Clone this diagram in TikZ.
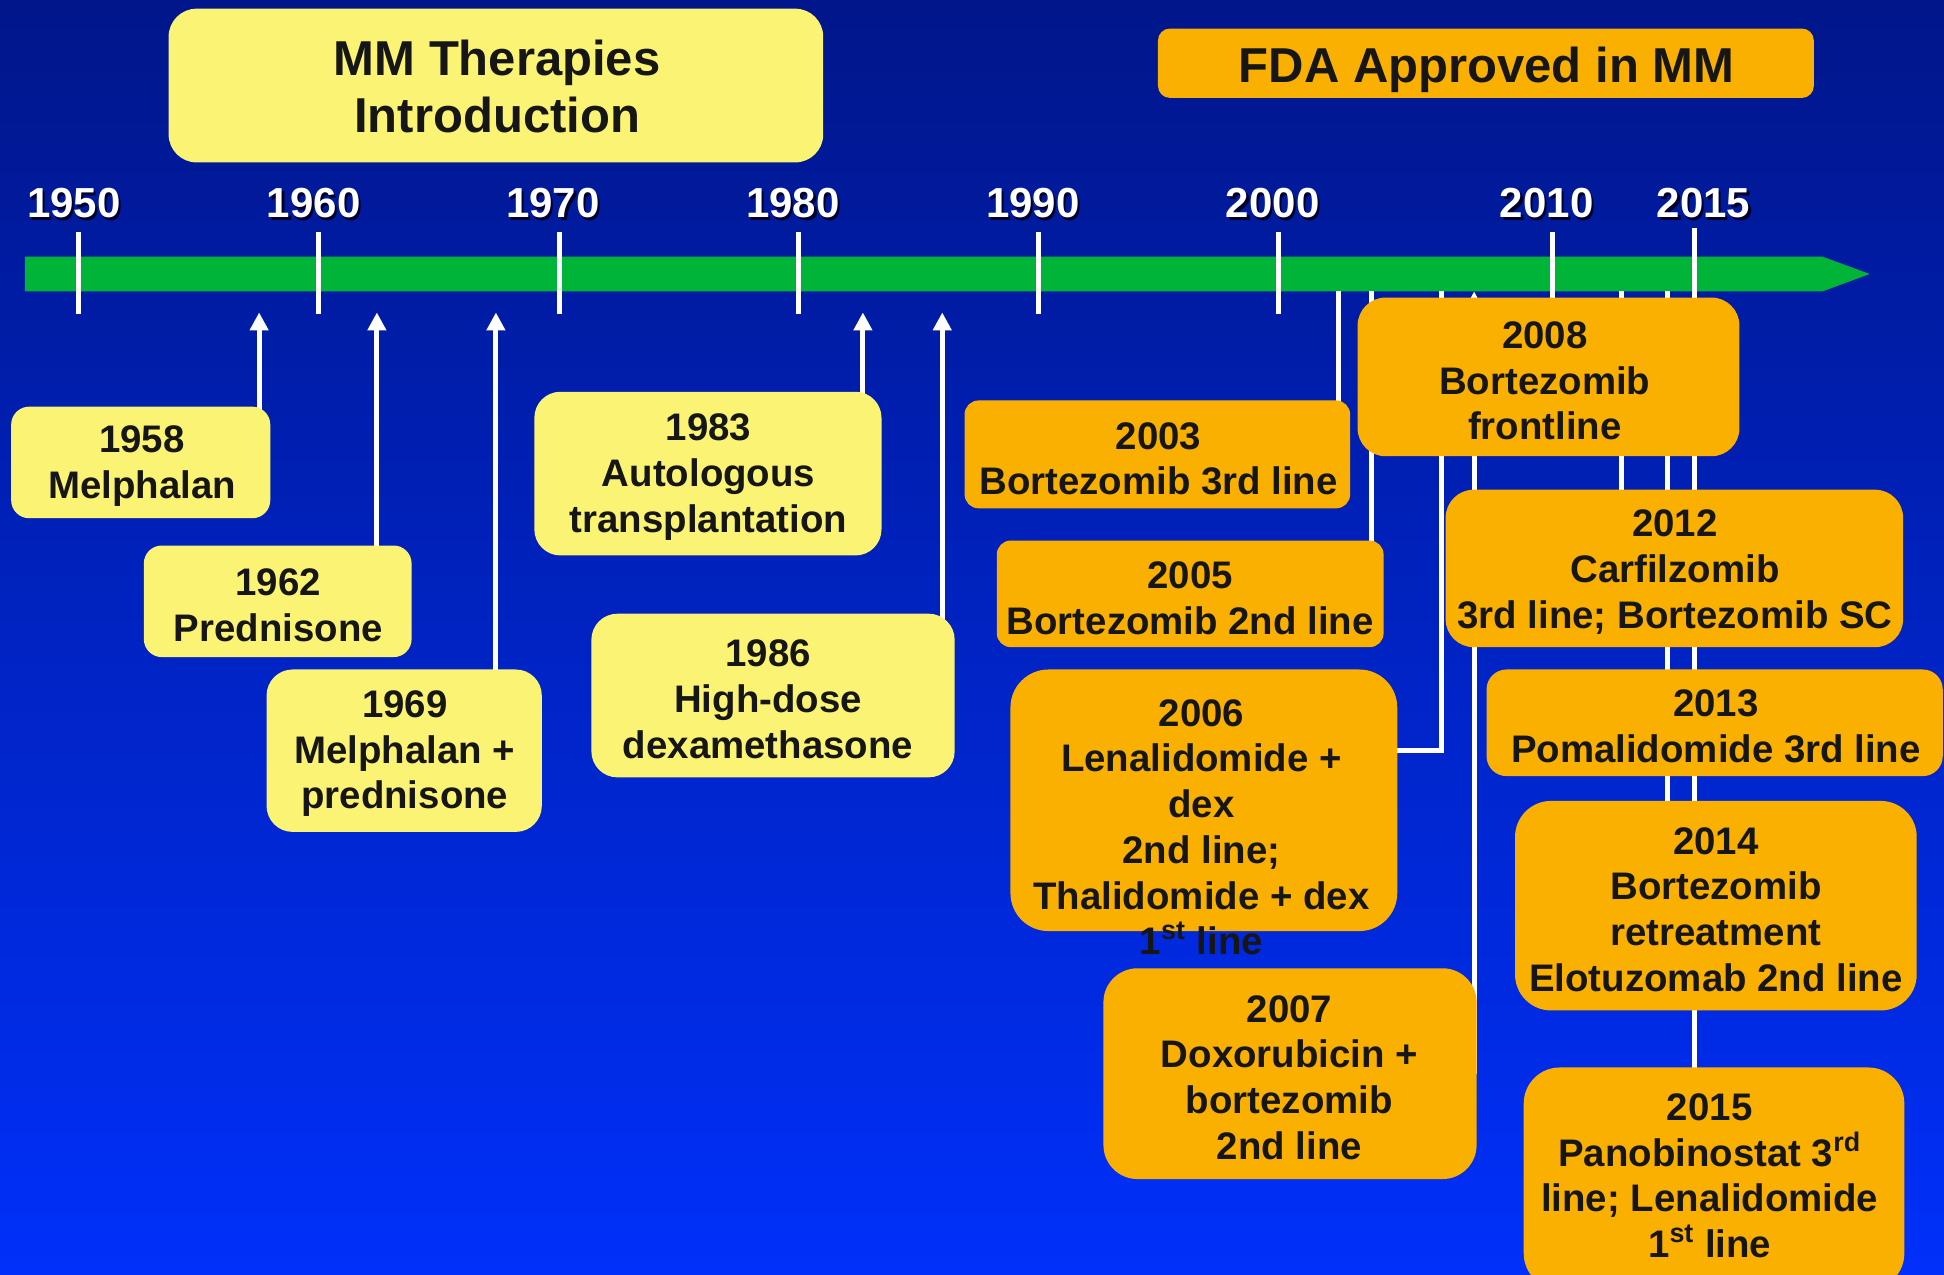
\documentclass[tikz,border=0pt]{standalone}
\usepackage{fontspec}
\setmainfont{Liberation Sans}
\usetikzlibrary{arrows.meta,fit}
\pgfdeclarelayer{back}
\pgfdeclarelayer{lines}
\pgfsetlayers{back,lines,main}
\definecolor{bgtop}{RGB}{0,22,138}
\definecolor{bgbot}{RGB}{0,48,250}
\definecolor{ylw}{RGB}{250,243,115}
\definecolor{org}{RGB}{250,176,0}
\definecolor{grn}{RGB}{0,180,55}
\definecolor{ink}{RGB}{22,22,22}
\definecolor{shd}{RGB}{0,0,45}
\begin{document}
\begin{tikzpicture}[x=0.62pt,y=-0.62pt,
  ybox/.style={fill=ylw, inner sep=0pt, rounded corners=#1},
  ybox/.default=9pt,
  obox/.style={fill=org, inner sep=0pt, rounded corners=#1},
  obox/.default=9pt,
  txt/.style={text=ink, font=\bfseries\fontsize{19.2}{22.9}\selectfont, align=center, inner sep=0pt, yshift=-1.6pt},
  ttl/.style={text=ink, font=\bfseries\fontsize{24.5}{28.5}\selectfont, align=center, inner sep=0pt},
  yr/.style={text=white, font=\bfseries\fontsize{21}{25}\selectfont, inner sep=0pt},
  yrs/.style={text=shd, font=\bfseries\fontsize{21}{25}\selectfont, inner sep=0pt},
  tick/.style={draw=white, line width=2.5pt},
  conn/.style={draw=white, line width=2.5pt},
  arr/.style={draw=white, line width=2.5pt, -{Triangle[width=9pt,length=9pt]}},
]
\useasboundingbox (0,0) rectangle (1568,1028);
\clip (0,0) rectangle (1568,1028);

% ---------- background, timeline, ticks, year labels
\begin{pgfonlayer}{back}
\shade[top color=bgtop, bottom color=bgbot] (0,0) rectangle (1568,1028);
\fill[grn] (20,207) -- (1470,207) -- (1508,221) -- (1470,235) -- (20,235) -- cycle;
\foreach \xx in {63,257,451,644,838,1031,1252}{
  \draw[tick] (\xx,187) -- (\xx,253);
}
\foreach \lbl/\lx in {1950/59.5,1960/253,1970/446,1980/639.5,1990/833,2000/1026.5,2010/1247.5,2015/1374}{
  \node[yrs] (s\lbl) at (\lx+1.8,166) {\lbl};
  \node[yr] (y\lbl) at (\lx,164) {\lbl};
}
\end{pgfonlayer}

% ---------- boxes
\node[ybox=14pt, fit={(136,7) (664,131)}] (title1) {};
\node[obox=6pt, fit={(934,23) (1463,79)}] (title2) {};
\node[ybox=9pt, fit={(9,328) (218,418)}] (b1958) {};
\node[ybox=9pt, fit={(116,440) (332,530)}] (b1962) {};
\node[ybox=13pt, fit={(215,540) (437,671)}] (b1969) {};
\node[ybox=13pt, fit={(431,316) (711,448)}] (b1983) {};
\node[ybox=13pt, fit={(477,495) (770,627)}] (b1986) {};
\node[obox=7pt, fit={(778,323) (1089,410)}] (b2003) {};
\node[obox=7pt, fit={(804,436) (1116,522)}] (b2005) {};
\node[obox=19pt, fit={(815,540) (1127,751)}] (b2006) {};
\node[obox=17pt, fit={(890,781) (1191,951)}] (b2007) {};
\node[obox=14pt, fit={(1095,240) (1403,368)}] (b2008) {};
\node[obox=14pt, fit={(1166,395) (1535,522)}] (b2012) {};
\node[obox=10pt, fit={(1199,540) (1567,626)}] (b2013) {};
\node[obox=18pt, fit={(1222,646) (1546,815)}] (b2014) {};
\node[obox=18pt, fit={(1229,861) (1536,1040)}] (b2015) {};

% ---------- connectors
\coordinate (a1958) at (209,252);
\coordinate (a1962) at (304,252);
\coordinate (a1969) at (400,252);
\coordinate (a1983) at (696,252);
\coordinate (a1986) at (760,252);
\coordinate (c2003) at (1080,235);
\coordinate (c2005) at (1106,235);
\coordinate (c2006) at (1163,235);
\coordinate (k2006) at (1163,605);
\coordinate (c2007) at (1189,235);
\coordinate (c2012) at (1308,235);
\coordinate (c2014) at (1345,235);
\coordinate (c2015) at (1367,184);
\begin{pgfonlayer}{lines}
\draw[arr] (b1958.center -| a1958) -- (a1958);
\draw[arr] (b1962.center -| a1962) -- (a1962);
\draw[arr] (b1969.center -| a1969) -- (a1969);
\draw[arr] (b1983.center -| a1983) -- (a1983);
\draw[arr] (b1986.center -| a1986) -- (a1986);
\draw[conn] (c2003) -- (c2003 |- b2003.center);
\draw[conn] (c2005) -- (c2005 |- b2005.center);
\draw[conn] (c2006) -- (k2006) -- (k2006 -| b2006.center);
\draw[arr] (b2007.center -| c2007) -- (c2007);
\draw[conn] (c2012) -- (c2012 |- b2012.center);
\draw[conn] (c2014) -- (c2014 |- b2014.center);
\draw[conn] (c2015) -- (c2015 |- b2015.center);
\end{pgfonlayer}

% ---------- texts
\node[ttl] (t1) at (401,70) {MM Therapies\\Introduction};
\node[ttl] (t2) at (1199,56) {FDA Approved in MM};
\node[txt] (t1958) at (114.5,373.5) {1958\\Melphalan};
\node[txt] (t1962) at (224.5,485.5) {1962\\Prednisone};
\node[txt] (t1969) at (326.5,605.3) {1969\\Melphalan +\\prednisone};
\node[txt] (t1983) at (571.5,382.3) {1983\\Autologous\\transplantation};
\node[txt] (t1986) at (619.5,561.3) {1986\\High-dose\\dexamethasone};
\node[txt] (t2003) at (934.5,367.5) {2003\\Bortezomib 3rd line};
\node[txt] (t2005) at (960,480) {2005\\Bortezomib 2nd line};
\node[txt] (t2006) at (969,664.7) {2006\\Lenalidomide +\\dex\\2nd line;\\Thalidomide + dex\\1\textsuperscript{st} line};
\node[txt] (t2007) at (1040,866.5) {2007\\Doxorubicin +\\bortezomib\\2nd line};
\node[txt] (t2008) at (1246,304.7) {2008\\Bortezomib\\frontline};
\node[txt] (t2012) at (1351,458.7) {2012\\Carfilzomib\\3rd line; Bortezomib SC};
\node[txt] (t2013) at (1384,583.5) {2013\\Pomalidomide 3rd line};
\node[txt] (t2014) at (1384,731) {2014\\Bortezomib\\retreatment\\Elotuzomab 2nd line};
\node[txt] (t2015) at (1379,945.8) {2015\\Panobinostat 3\textsuperscript{rd}\\line; Lenalidomide\\1\textsuperscript{st} line};
\end{tikzpicture}
\end{document}
